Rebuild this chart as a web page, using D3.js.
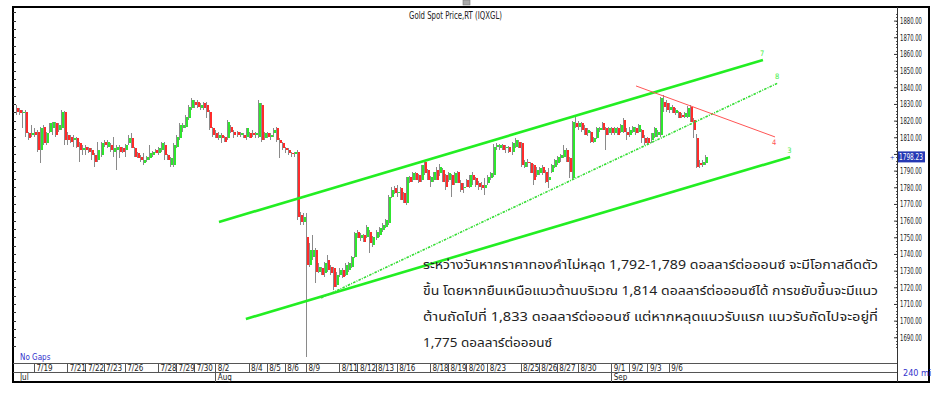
<!DOCTYPE html>
<html><head><meta charset="utf-8">
<script src="https://cdn.jsdelivr.net/npm/d3@7"></script>
<style>
html,body{margin:0;padding:0;background:#fff;}
svg{display:block;}
.nar{font-family:'Liberation Sans Narrow','Arial Narrow','DejaVu Sans Condensed',sans-serif;}
</style></head><body>
<svg id="chart" width="938" height="397"></svg>
<script>
// ---------- DATA: 240-minute candles [open, high, low, close] ----------
const wk0716 = [
[1827.4,1829.4,1823.4,1825.0],[1826.4,1827.4,1823.4,1824.4],[1824.4,1826.4,1815.4,1825.4],
[1825.4,1826.4,1810.4,1812.4],[1812.4,1813.4,1808.4,1809.4],[1811.4,1817.4,1810.4,1812.4]];
const wk0719 = [
[1813.4,1815.4,1810.4,1811.4],[1813.4,1814.4,1801.4,1802.4],[1802.4,1816.4,1794.4,1815.4],
[1815.9,1817.4,1805.4,1806.4],[1806.4,1813.4,1805.4,1812.4],[1813.4,1818.4,1812.4,1818.4],
[1815.4,1819.4,1811.4,1819.4],[1818.4,1819.4,1810.4,1811.4],[1814.4,1818.4,1813.4,1817.4],
[1815.4,1826.4,1814.4,1825.4],[1825.4,1826.0,1805.4,1808.4],[1811.4,1813.4,1805.4,1808.4],
[1810.4,1811.4,1806.4,1807.4],[1808.4,1811.4,1804.4,1809.4],[1809.4,1810.4,1803.4,1804.4],
[1806.4,1807.4,1795.4,1802.4],[1802.4,1805.4,1799.4,1803.4],[1804.4,1805.4,1799.4,1802.4],
[1803.4,1804.4,1800.4,1801.4],[1802.4,1803.4,1796.4,1799.4],[1799.4,1800.4,1792.4,1795.4],
[1796.4,1807.4,1795.4,1802.4],[1799.4,1807.4,1798.4,1806.4],[1807.4,1808.4,1804.4,1805.4],
[1804.4,1808.4,1803.4,1807.4],[1805.4,1806.4,1801.4,1802.4],[1801.4,1810.4,1798.4,1803.4],
[1802.4,1805.4,1790.4,1804.4],[1804.4,1805.4,1797.4,1801.4],[1803.4,1804.4,1800.4,1801.4]];
const wk0726 = [
[1802.4,1806.0,1798.4,1805.4],[1806.4,1811.4,1805.4,1809.4],[1809.4,1812.4,1803.4,1803.4],
[1803.4,1804.4,1798.4,1798.4],[1800.4,1801.4,1797.4,1797.4],[1798.4,1799.4,1795.4,1796.4],
[1794.4,1800.4,1793.4,1796.4],[1796.4,1799.0,1795.0,1798.4],[1797.4,1805.4,1796.4,1800.4],
[1799.4,1802.0,1798.4,1801.4],[1802.4,1803.0,1800.4,1800.4],[1800.4,1804.0,1799.4,1803.4],
[1802.4,1807.4,1801.4,1806.4],[1805.4,1807.4,1796.4,1799.4],[1799.4,1800.0,1796.4,1796.4],
[1793.4,1798.4,1792.4,1797.4],[1793.4,1806.4,1792.4,1805.4],[1804.4,1811.4,1803.4,1810.4],
[1809.4,1818.4,1808.4,1817.4],[1815.4,1818.4,1813.4,1817.4],[1816.4,1823.4,1815.4,1822.4],
[1821.4,1829.4,1820.4,1828.4],[1827.4,1833.4,1826.4,1832.4],[1831.4,1832.4,1827.4,1829.4],
[1831.4,1832.4,1827.4,1828.4],[1827.4,1830.4,1826.4,1829.4],[1830.4,1831.4,1826.4,1827.4],
[1829.4,1831.4,1821.4,1825.4],[1825.4,1826.4,1814.4,1815.4],[1815.4,1816.4,1810.4,1811.4]];
const wk0802 = [
[1812.4,1814.4,1809.4,1809.4],[1809.4,1813.4,1808.4,1811.4],[1811.4,1812.4,1806.4,1809.4],
[1810.4,1811.0,1807.4,1807.4],[1809.4,1820.4,1808.4,1819.4],[1816.4,1817.4,1812.4,1813.4],
[1813.4,1814.4,1809.4,1811.4],[1813.4,1814.0,1810.4,1811.4],[1811.4,1813.4,1810.4,1812.4],
[1811.4,1812.4,1809.4,1809.4],[1810.4,1815.4,1808.4,1815.4],[1812.4,1813.0,1809.4,1809.4],
[1812.4,1814.4,1810.4,1811.4],[1811.4,1813.4,1809.4,1812.4],[1810.4,1832.4,1809.4,1830.4],
[1829.4,1830.4,1807.4,1808.4],[1809.4,1813.4,1808.4,1812.4],[1812.4,1813.4,1809.4,1810.4],
[1810.4,1812.4,1808.4,1811.4],[1812.4,1815.4,1810.4,1814.4],[1815.4,1816.4,1807.4,1808.4],
[1808.4,1809.4,1797.4,1806.4],[1806.4,1807.4,1802.4,1803.4],[1803.4,1804.4,1800.4,1802.4],
[1802.4,1803.4,1799.4,1800.4],[1800.4,1801.4,1798.4,1800.0],[1800.0,1801.4,1798.4,1801.4],
[1801.4,1802.4,1760.4,1762.4],[1763.4,1765.4,1757.4,1759.4],[1759.4,1764.4,1757.4,1762.4]];
const wk0809 = [
[1750.4,1764.4,1678.4,1733.4],[1733.4,1746.4,1732.4,1742.4],[1738.4,1751.4,1736.4,1742.4],
[1742.4,1743.4,1722.4,1729.4],[1729.4,1734.4,1728.4,1732.4],[1731.4,1732.4,1727.4,1727.4],
[1728.4,1735.4,1726.4,1734.4],[1736.4,1739.4,1729.4,1730.4],[1732.4,1733.4,1727.4,1728.4],
[1731.4,1732.4,1718.4,1720.4],[1721.4,1729.4,1720.4,1727.4],[1727.4,1731.4,1726.4,1730.4],
[1730.4,1731.4,1725.4,1726.4],[1727.4,1734.4,1727.0,1733.4],[1730.4,1735.0,1729.4,1734.4],
[1732.4,1739.0,1731.4,1738.4],[1738.4,1753.4,1737.4,1752.4],[1753.4,1754.4,1749.4,1749.4],
[1749.4,1752.4,1748.0,1751.4],[1751.4,1752.0,1747.4,1747.4],[1750.4,1757.4,1749.4,1756.4],
[1753.4,1754.4,1740.4,1746.4],[1745.4,1751.0,1744.4,1750.4],[1749.4,1754.4,1748.4,1753.4],
[1751.4,1756.4,1750.4,1755.4],[1754.4,1758.4,1753.4,1757.4],[1756.4,1761.0,1755.4,1760.4],
[1758.4,1775.4,1757.4,1774.4],[1774.4,1780.0,1773.4,1778.4],[1779.4,1781.0,1776.0,1776.4]];
const wk0816 = [
[1776.4,1781.4,1774.4,1777.4],[1779.4,1780.0,1772.4,1772.4],[1776.4,1777.0,1770.4,1770.4],
[1770.4,1786.4,1769.4,1786.4],[1786.4,1787.0,1782.4,1783.4],[1784.4,1789.0,1783.4,1788.4],
[1788.4,1789.4,1784.4,1784.4],[1787.4,1788.0,1782.4,1783.4],[1784.4,1793.4,1783.4,1793.4],
[1795.4,1796.4,1787.4,1788.4],[1790.4,1791.0,1784.4,1784.4],[1783.4,1787.0,1780.4,1786.4],
[1784.4,1789.4,1783.4,1789.4],[1790.4,1792.4,1784.4,1784.4],[1788.4,1794.0,1787.0,1792.4],
[1790.4,1791.4,1783.4,1783.4],[1787.4,1788.0,1778.4,1780.4],[1784.4,1789.0,1783.4,1788.4],
[1787.4,1788.0,1774.4,1781.4],[1782.4,1789.0,1781.4,1788.4],[1789.4,1790.0,1782.4,1782.4],
[1782.4,1784.4,1777.4,1778.4],[1779.4,1782.4,1776.4,1780.4],[1784.4,1785.0,1780.4,1780.4],
[1780.4,1787.4,1779.4,1787.4],[1787.4,1789.4,1781.4,1784.4],[1785.4,1786.4,1780.4,1781.4],
[1782.4,1784.0,1778.4,1780.4],[1781.4,1783.0,1778.4,1779.4],[1779.4,1785.4,1775.4,1781.4]];
const wk0823 = [
[1782.4,1787.4,1781.4,1786.4],[1785.4,1789.4,1784.4,1788.4],[1787.4,1806.0,1786.4,1804.4],
[1804.4,1806.4,1802.4,1805.4],[1803.4,1806.0,1802.4,1805.4],[1805.4,1806.0,1802.4,1802.4],
[1803.4,1805.4,1800.4,1804.4],[1804.4,1805.0,1800.4,1801.4],[1801.4,1807.0,1799.4,1806.4],
[1804.4,1809.8,1803.4,1808.4],[1807.4,1808.4,1803.4,1803.4],[1806.4,1807.0,1792.4,1793.4],
[1792.4,1796.4,1791.4,1795.4],[1795.4,1797.0,1792.4,1794.4],[1794.4,1795.0,1788.4,1788.4],
[1793.4,1794.0,1781.4,1784.4],[1787.4,1792.0,1786.0,1790.4],[1788.4,1792.4,1787.4,1791.4],
[1792.4,1793.4,1787.4,1788.4],[1789.4,1790.4,1782.4,1783.4],[1784.4,1791.4,1779.4,1786.4],
[1789.4,1794.0,1788.4,1793.4],[1792.4,1797.0,1791.4,1796.4],[1794.4,1799.0,1793.4,1798.4],
[1797.4,1800.0,1795.4,1799.4],[1798.4,1805.4,1797.4,1802.4],[1802.4,1803.4,1795.4,1795.4],
[1797.4,1798.4,1785.4,1789.4],[1785.4,1820.0,1784.4,1819.4],[1818.4,1823.4,1815.4,1816.4]];
const wk0830 = [
[1816.4,1820.0,1814.4,1818.4],[1818.4,1819.0,1813.4,1814.4],[1815.4,1817.4,1811.4,1811.4],
[1812.4,1815.4,1811.0,1814.4],[1813.4,1814.0,1806.4,1807.4],[1807.4,1810.4,1806.4,1809.4],
[1809.4,1816.0,1809.0,1815.4],[1814.4,1816.4,1813.4,1815.4],[1818.4,1819.4,1814.4,1814.4],
[1815.4,1816.0,1802.4,1811.4],[1812.4,1816.4,1811.4,1815.4],[1815.4,1816.0,1811.4,1812.4],
[1812.4,1816.4,1811.4,1815.4],[1815.4,1816.0,1811.4,1811.4],[1813.4,1818.0,1812.4,1817.4],
[1820.4,1821.4,1812.4,1813.4],[1813.4,1815.4,1808.4,1811.4],[1811.4,1816.4,1810.4,1814.4],
[1813.4,1817.0,1812.4,1816.4],[1815.4,1816.0,1811.4,1812.4],[1813.4,1818.0,1812.4,1817.4],
[1814.4,1815.0,1806.4,1809.4],[1809.4,1811.4,1805.4,1806.4],[1809.4,1810.0,1806.0,1806.4],
[1808.4,1812.4,1806.4,1812.4],[1810.4,1816.0,1809.4,1815.4],[1811.4,1814.4,1810.4,1813.4],
[1811.4,1834.4,1810.4,1833.4],[1831.4,1835.4,1825.4,1828.4],[1830.4,1832.4,1825.4,1826.4]];
const wk0906 = [
[1826.4,1830.4,1824.4,1828.4],[1828.4,1829.4,1824.4,1824.4],[1824.4,1827.4,1823.4,1826.4],
[1825.4,1826.0,1821.4,1821.4],[1823.4,1824.4,1821.4,1822.4],[1822.4,1825.4,1821.4,1824.4],
[1822.4,1829.0,1821.4,1827.4],[1828.4,1829.4,1819.4,1819.4],[1820.4,1821.4,1809.4,1814.4],
[1809.4,1812.0,1791.4,1792.4],[1794.4,1796.4,1791.4,1793.4],[1793.4,1796.4,1792.4,1795.4],
[1794.4,1799.4,1793.4,1798.23]];

const dayLabels = ['7/16','7/19','7/20','7/21','7/22','7/23','7/26','7/27','7/28','7/29','7/30',
 '8/2','8/3','8/4','8/5','8/6','8/9','8/10','8/11','8/12','8/13','8/16','8/17','8/18','8/19','8/20',
 '8/23','8/24','8/25','8/26','8/27','8/30','8/31','9/1','9/2','9/3','9/6','9/7'];
const dayBars = [6,5,6,6,6,7,5,6,6,6,7,5,6,6,6,7,5,6,6,6,7,5,6,6,6,7,5,6,6,6,7,5,6,6,6,7,5,8];
const shownDates = ['7/19','7/21','7/22','7/23','7/26','7/28','7/29','7/30','8/2','8/4','8/5','8/6',
 '8/9','8/11','8/12','8/13','8/16','8/18','8/19','8/20','8/23','8/25','8/26','8/27','8/30','9/1','9/2','9/3','9/6'];
const monthNames = ['Jul','Aug','Sep'];
const monthStarts = ['7/16','8/2','9/1'];
const priceTicks = d3.range(1690, 1881, 10);
const lastPrice = 1798.23;

// trend lines: [bar index, price]
const channelTop = [[67.2,1759.2],[247.2,1856.4]];
const channelBottom = [[76.1,1701.0],[256.2,1798.2]];
const supportDotted = [[101.0,1713.6],[252.2,1842.6]];
const resistRed = [[205.2,1840.8],[251.2,1810.2]];

const title = 'Gold Spot Price,RT  (IQXGL)';
const noteLines = [
 'ระหว่างวันหากราคาทองคำไม่หลุด 1,792-1,789 ดอลลาร์ต่อออนซ์ จะมีโอกาสดีดตัว',
 'ขึ้น โดยหากยืนเหนือแนวต้านบริเวณ 1,814 ดอลลาร์ต่อออนซ์ได้ การขยับขึ้นจะมีแนว',
 'ต้านถัดไปที่ 1,833 ดอลลาร์ต่อออนซ์ แต่หากหลุดแนวรับแรก แนวรับถัดไปจะอยู่ที่',
 '1,775 ดอลลาร์ต่อออนซ์'];
const noteWidths = [455, 455, 455, 129];

// ---------- BUILD ----------
const candles = [].concat(wk0716,wk0719,wk0726,wk0802,wk0809,wk0816,wk0823,wk0830,wk0906);
const N = candles.length;
const starts = [0, ...d3.cumsum(dayBars)].slice(0, dayBars.length);
const dayStart = new Map(dayLabels.map((d,i)=>[d, starts[i]]));

const svg = d3.select('#chart');
const L = 13, R = 897, T = 7, B = 363, FR = 929, FB = 382;
const x = d3.scaleLinear().domain([0, N]).range([15.9, 15.9 + N*3.022]);
const y = d3.scaleLinear().domain([1690, 1880]).range([337.3, 20.6]);

svg.append('rect').attr('width',938).attr('height',397).attr('fill','#fff');

const clipId = 'plotclip';
svg.append('clipPath').attr('id',clipId).append('rect').attr('x',L).attr('y',T).attr('width',R-L).attr('height',B-T);
const plot = svg.append('g').attr('clip-path',`url(#${clipId})`);

// candles
const cg = plot.append('g').attr('shape-rendering','crispEdges');
cg.selectAll('rect.wick').data(candles).join('rect').attr('class','wick')
  .attr('x',(d,i)=>Math.round(x(i))).attr('width',1)
  .attr('y',d=>y(d[1])).attr('height',d=>Math.max(1,y(d[2])-y(d[1])))
  .attr('fill','#8a8a8a');
cg.selectAll('rect.body').data(candles).join('rect').attr('class','body')
  .attr('x',(d,i)=>Math.round(x(i))+1).attr('width',2)
  .attr('y',d=>y(Math.max(d[0],d[3]))).attr('height',d=>Math.max(1,Math.abs(y(d[0])-y(d[3]))))
  .attr('fill',d=>d[3]>=d[0]?'#2ee62e':'#ff2b2b');

// trend lines
const line = d3.line().x(d=>x(d[0])).y(d=>y(d[1]));
plot.append('path').attr('d',line(channelTop)).attr('stroke','#22ee22').attr('stroke-width',2.6).attr('fill','none');
plot.append('path').attr('d',line(channelBottom)).attr('stroke','#22ee22').attr('stroke-width',2.6).attr('fill','none');
plot.append('path').attr('d',line(supportDotted)).attr('stroke','#33dd33').attr('stroke-width',1.6)
  .attr('stroke-dasharray','2.5,1.2,1,1.2').attr('fill','none');
plot.append('path').attr('d',line(resistRed)).attr('stroke','#ff5555').attr('stroke-width',1).attr('fill','none');
const lbl = [[channelTop[1],'7','#44ee44',-3,-4],[supportDotted[1],'8','#44ee44',-3,-4],
             [channelBottom[1],'3','#44ee44',-3,-4],[resistRed[1],'4','#ff5555',-3,8]];
plot.selectAll('text.tl').data(lbl).join('text').attr('class','tl nar')
  .attr('x',d=>x(d[0][0])+d[3]).attr('y',d=>y(d[0][1])+d[4]).attr('font-size',7.5).attr('fill',d=>d[2]).text(d=>d[1]);

// title
svg.append('text').attr('class','nar').attr('x',409).attr('y',19).attr('font-size',10).attr('fill','#222')
  .attr('textLength',93).attr('lengthAdjust','spacingAndGlyphs').text(title);
svg.append('rect').attr('x',463).attr('y',0).attr('width',7).attr('height',5).attr('fill','#aaa').attr('stroke','#777').attr('stroke-width',0.6);

// note text
svg.append('g').selectAll('text').data(noteLines).join('text')
  .attr('x',423).attr('y',(d,i)=>269+i*26)
  .attr('font-family',"Tahoma,'Noto Sans Thai','Loma','Garuda','Norasi',sans-serif").attr('font-size',13).attr('fill','#222')
  .attr('textLength',(d,i)=>noteWidths[i]).attr('lengthAdjust','spacingAndGlyphs')
  .text(d=>d);

// frame
const fr = svg.append('g').attr('shape-rendering','crispEdges');
fr.append('rect').attr('x',L).attr('y',T).attr('width',FR-L).attr('height',FB-T).attr('fill','none').attr('stroke','#000').attr('stroke-width',2);
fr.append('line').attr('x1',R).attr('x2',R).attr('y1',T).attr('y2',FB).attr('stroke','#333');
fr.append('line').attr('x1',L).attr('x2',R).attr('y1',B).attr('y2',B).attr('stroke','#555');
fr.append('line').attr('x1',L).attr('x2',R).attr('y1',372).attr('y2',372).attr('stroke','#555');

// left minor ticks
fr.selectAll('line.lt').data(d3.range(1685,1886,5)).join('line').attr('class','lt')
  .attr('x1',L).attr('x2',L+3).attr('y1',d=>Math.round(y(d))+0.5).attr('y2',d=>Math.round(y(d))+0.5).attr('stroke','#333');

// right axis (the 1800 label sits under the last-price box, as in the source)
const ax = svg.append('g').attr('transform',`translate(${R},0)`)
  .call(d3.axisRight(y).tickValues(priceTicks).tickFormat(d=>d===1800?'':d3.format('.2f')(d)).tickSizeInner(-3).tickSizeOuter(0).tickPadding(3));
ax.select('.domain').remove();
ax.selectAll('text').attr('class','nar').attr('font-size',9).attr('fill','#222')
  .attr('textLength',d=>d===1800?null:22).attr('lengthAdjust','spacingAndGlyphs');
ax.selectAll('line').attr('stroke','#333');
fr.selectAll('line.rm').data(d3.range(1684,1886,2)).join('line').attr('class','rm')
  .attr('x1',R-1.5).attr('x2',R).attr('y1',d=>Math.round(y(d))+0.5).attr('y2',d=>Math.round(y(d))+0.5).attr('stroke','#555');

// last price box
const ly = y(lastPrice);
svg.append('rect').attr('x',R+1).attr('y',ly-5.5).attr('width',27).attr('height',11).attr('fill','#2438b4');
svg.append('text').attr('class','nar').attr('x',R+2).attr('y',ly+3.5).attr('font-size',9).attr('fill','#fff')
  .attr('textLength',24).attr('lengthAdjust','spacingAndGlyphs').text(d3.format('.2f')(lastPrice));
svg.append('text').attr('x',R-7).attr('y',ly+3).attr('font-size',8).attr('fill','#2438b4').text('+');

// x axis dates
const dg = svg.append('g');
dg.selectAll('line').data(shownDates).join('line')
  .attr('x1',d=>Math.round(x(dayStart.get(d)))+0.5).attr('x2',d=>Math.round(x(dayStart.get(d)))+0.5)
  .attr('y1',B).attr('y2',372).attr('stroke','#555');
dg.selectAll('text').data(shownDates).join('text').attr('class','nar')
  .attr('x',d=>x(dayStart.get(d))+2.5).attr('y',370.5).attr('font-size',8).attr('fill','#222').text(d=>d);
const mg = svg.append('g');
mg.selectAll('line').data(monthStarts.slice(1)).join('line')
  .attr('x1',d=>Math.round(x(dayStart.get(d)))+0.5).attr('x2',d=>Math.round(x(dayStart.get(d)))+0.5)
  .attr('y1',372).attr('y2',FB).attr('stroke','#555');
mg.selectAll('text').data(monthNames).join('text').attr('class','nar')
  .attr('x',(d,i)=>i===0?20:x(dayStart.get(monthStarts[i]))+2.5).attr('y',379.5).attr('font-size',8).attr('fill','#222').text(d=>d);

svg.append('text').attr('class','nar').attr('x',20).attr('y',360).attr('font-size',8).attr('fill','#3333cc').text('No Gaps');
svg.append('text').attr('class','nar').attr('x',903).attr('y',376).attr('font-size',9).attr('fill','#3333cc').text('240 mi');
</script></body></html>
